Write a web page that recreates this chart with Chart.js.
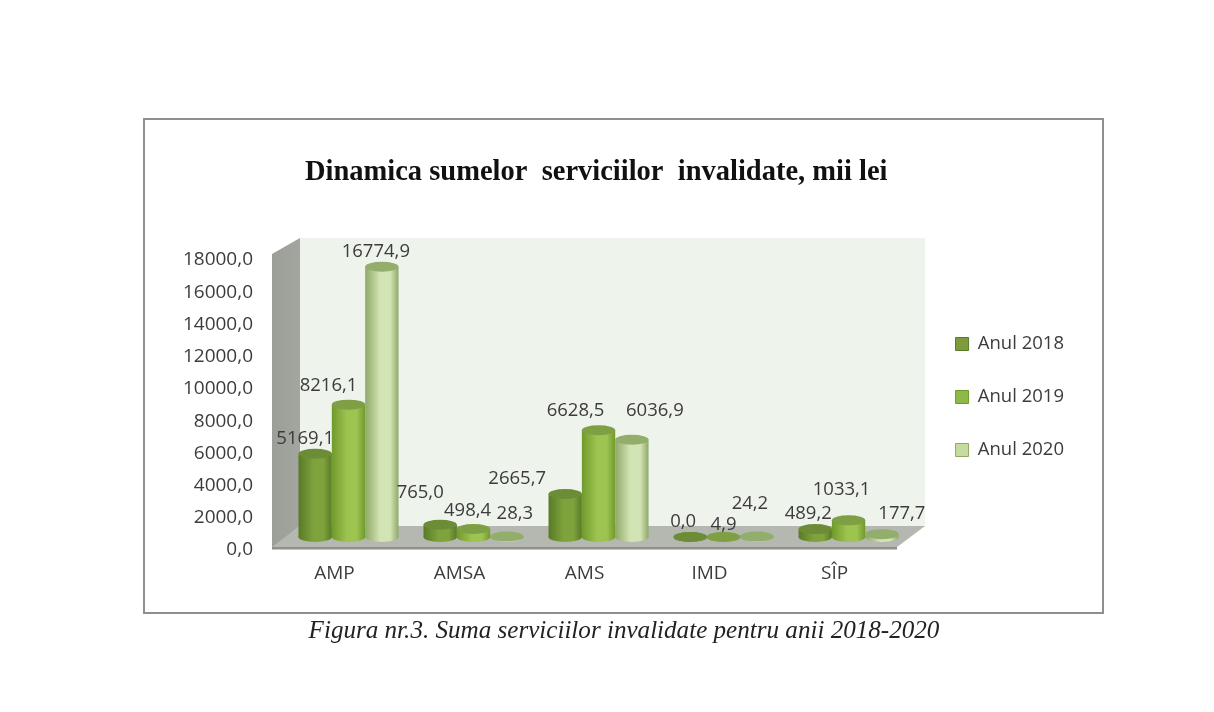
<!DOCTYPE html>
<html>
<head>
<meta charset="utf-8">
<title>Dinamica sumelor serviciilor invalidate</title>
<script src="https://cdn.jsdelivr.net/npm/chart.js@4"></script>
<style>
  body { margin: 0; background: #fff; }
  #wrap { position: absolute; left: 0; top: 0; width: 1214px; height: 712px; }
  #frame { position: absolute; left: 143px; top: 118px; width: 957px; height: 492px; border: 2px solid #8f8f8f; }
  #caption { position: absolute; left: 0; width: 1248px; top: 616px; text-align: center; font: italic 25.1px "Liberation Serif", serif; color: #222; }
</style>
</head>
<body>
<div id="wrap">
  <div id="frame"></div>
  <canvas id="myChart" width="1214" height="712"></canvas>
  <div id="caption">Figura nr.3. Suma serviciilor invalidate pentru anii 2018-2020</div>
</div>
<script>
'use strict'

// values
const categories = ['AMP', 'AMSA', 'AMS', 'IMD', 'SÎP'];
const seriesNames = ['Anul 2018', 'Anul 2019', 'Anul 2020'];
const anul2018 = [5169.1, 765.0, 2665.7, 0.0, 489.2];
const anul2019 = [8216.1, 498.4, 6628.5, 4.9, 1033.1];
const anul2020 = [16774.9, 28.3, 6036.9, 24.2, 177.7];
const yMax = 18000;
const yStep = 2000;

// cylinder colours: edge, middle, top cap
const looks = [
  { edge: '#587a27', mid: '#7ea23c', cap: '#6d8c38', legend: '#7d9a3c' },
  { edge: '#6f9a2c', mid: '#9dc350', cap: '#7f9f44', legend: '#8fb84a' },
  { edge: '#8fa868', mid: '#d3e4b4', cap: '#93ad6c', legend: '#c6dba0' }
];

// 3D look of the box: depth of the floor, bars stand halfway in
const depthX = 28;
const depthY = 22;
const boxLift = 2; // tick labels sit a little under the box lines
const capRy = 5;

// nudges for the value labels, [dx, dy] from the top centre of each cylinder
const labelNudge = [
  [[-10, -15], [-20, -19], [-6, -15]],
  [[-20, -32], [-6, -18], [8, -23]],
  [[-48, -15], [-23, -19], [23, -29]],
  [[-7, -15], [0, -12], [-7, -33]],
  [[-7, -15], [-7, -31], [20, -20]]
];

function comma(v) {
  return v.toFixed(1).replace('.', ',');
}

function drawBox(chart) {
  const ctx = chart.ctx;
  const a = chart.chartArea;
  const left = a.left, right = a.right, top = a.top - boxLift, bottom = a.bottom - boxLift;

  // back wall
  ctx.fillStyle = '#eef3ec';
  ctx.fillRect(left + depthX, top - 20, right - left, bottom - top + 20 - depthY + 1);

  // left wall
  let g = ctx.createLinearGradient(left, 0, left + depthX, 0);
  g.addColorStop(0, '#9c9e98');
  g.addColorStop(1, '#a3a59f');
  ctx.fillStyle = g;
  ctx.beginPath();
  ctx.moveTo(left, top - 4);
  ctx.lineTo(left + depthX, top - 20);
  ctx.lineTo(left + depthX, bottom - depthY);
  ctx.lineTo(left, bottom);
  ctx.closePath();
  ctx.fill();

  // floor
  ctx.fillStyle = '#b4b8b0';
  ctx.beginPath();
  ctx.moveTo(left, bottom - 1);
  ctx.lineTo(left + depthX, bottom - depthY);
  ctx.lineTo(right + depthX, bottom - depthY);
  ctx.lineTo(right, bottom - 1);
  ctx.closePath();
  ctx.fill();

  // front lip of the floor
  ctx.fillStyle = '#8e908b';
  ctx.fillRect(left, bottom - 1, right - left, 2.5);
}

function drawCylinder(chart, bar, look) {
  const ctx = chart.ctx;
  const half = bar.width / 2;
  const x0 = bar.x - half;
  const g = ctx.createLinearGradient(x0, 0, x0 + bar.width, 0);
  g.addColorStop(0, look.edge);
  g.addColorStop(0.45, look.mid);
  g.addColorStop(0.75, look.mid);
  g.addColorStop(1, look.edge);

  // bottom of the cylinder
  ctx.fillStyle = g;
  ctx.beginPath();
  ctx.ellipse(bar.x, bar.base, half, capRy, 0, 0, Math.PI * 2);
  ctx.fill();

  // body is the library's own bar element
  bar.options = Object.assign({}, bar.options, { backgroundColor: g, borderWidth: 0 });
  bar.draw(ctx);

  // top of the cylinder
  ctx.fillStyle = look.cap;
  ctx.beginPath();
  ctx.ellipse(bar.x, bar.y, half, capRy, 0, 0, Math.PI * 2);
  ctx.fill();
}

const cylinderPlugin = {
  id: 'cylinders',
  afterLayout(chart) {
    // legend sits further right and lower than the default spot
    const lg = chart.legend;
    lg.left += 24; lg.right += 24;
    lg.top += 102; lg.bottom += 102;
  },
  beforeDatasetsDraw(chart) {
    const ctx = chart.ctx;
    drawBox(chart);
    ctx.save();
    ctx.translate(depthX / 2, -depthY / 2 - boxLift);
    chart.data.datasets.forEach(function (ds, i) {
      chart.getDatasetMeta(i).data.forEach(function (bar) {
        drawCylinder(chart, bar, looks[i]);
      });
    });
    ctx.restore();
    return false; // already drawn, in left to right order
  },
  afterDraw(chart) {
    const ctx = chart.ctx;
    ctx.save();
    ctx.font = '18.5px "Open Sans", sans-serif';
    ctx.fillStyle = '#3c3c3c';
    ctx.textAlign = 'center';
    ctx.textBaseline = 'middle';
    chart.data.datasets.forEach(function (ds, i) {
      chart.getDatasetMeta(i).data.forEach(function (bar, j) {
        const n = labelNudge[j][i];
        ctx.fillText(comma(ds.data[j]), bar.x + depthX / 2 + n[0], bar.y - depthY / 2 - boxLift + n[1]);
      });
    });
    ctx.restore();
  }
};

const datasets = [anul2018, anul2019, anul2020].map(function (values, i) {
  return {
    label: seriesNames[i],
    data: values,
    backgroundColor: looks[i].legend,
    borderColor: looks[i].edge,
    borderWidth: 1,
    categoryPercentage: 0.8,
    barPercentage: 1
  };
});

const tickFont = { family: '"Open Sans", sans-serif', size: 19 };

new Chart(document.getElementById('myChart'), {
  type: 'bar',
  data: { labels: categories, datasets: datasets },
  plugins: [cylinderPlugin],
  options: {
    responsive: false,
    animation: false,
    events: [],
    layout: { padding: { left: 142.5, right: 164, top: 0, bottom: 122 } },
    plugins: {
      tooltip: { enabled: false },
      title: {
        display: true,
        text: 'Dinamica sumelor  serviciilor  invalidate, mii lei',
        color: '#111',
        font: { family: '"Liberation Serif", serif', size: 28.5, weight: 'bold' },
        padding: { top: 155.5, bottom: 70.3 }
      },
      legend: {
        position: 'right',
        labels: {
          boxWidth: 13,
          boxHeight: 13,
          padding: 34.5,
          color: '#3c3c3c',
          font: { family: '"Open Sans", sans-serif', size: 18.5 }
        }
      }
    },
    scales: {
      x: {
        grid: { display: false },
        border: { display: false },
        ticks: { color: '#3c3c3c', font: tickFont, padding: 4 },
        afterFit(scale) { scale.height = 40; }
      },
      y: {
        min: 0,
        max: yMax,
        grid: { display: false },
        border: { display: false },
        ticks: {
          stepSize: yStep,
          color: '#3c3c3c',
          font: tickFont,
          padding: 11,
          callback: function (v) { return comma(v); }
        },
        afterFit(scale) { scale.width = 129.5; }
      }
    }
  }
});
</script>
</body>
</html>
